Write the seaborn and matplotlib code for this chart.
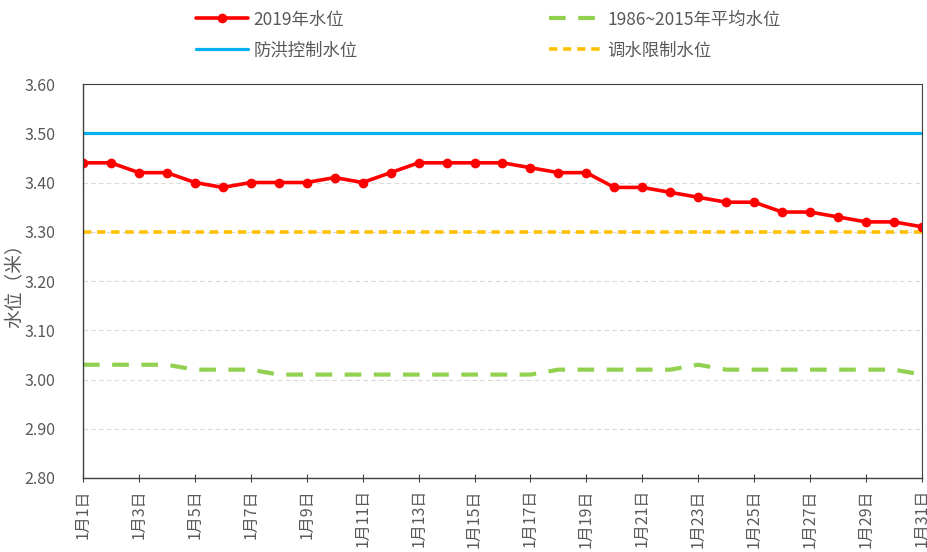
import matplotlib
matplotlib.use("Agg")
import matplotlib.pyplot as plt
import seaborn as sns
import pandas as pd

# ---- data ----
days = list(range(1, 32))
tick_days = list(range(1, 32, 2))
tick_labels = [f"1月{d}日" for d in tick_days]

level_2019 = [3.44, 3.44, 3.42, 3.42, 3.40, 3.39, 3.40, 3.40, 3.40, 3.41,
              3.40, 3.42, 3.44, 3.44, 3.44, 3.44, 3.43, 3.42, 3.42, 3.39,
              3.39, 3.38, 3.37, 3.36, 3.36, 3.34, 3.34, 3.33, 3.32, 3.32, 3.31]
level_avg = [3.03, 3.03, 3.03, 3.03, 3.02, 3.02, 3.02, 3.01, 3.01, 3.01,
             3.01, 3.01, 3.01, 3.01, 3.01, 3.01, 3.01, 3.02, 3.02, 3.02,
             3.02, 3.02, 3.03, 3.02, 3.02, 3.02, 3.02, 3.02, 3.02, 3.02, 3.01]
flood_level = 3.50
diversion_level = 3.30

y_ticks = [2.80, 2.90, 3.00, 3.10, 3.20, 3.30, 3.40, 3.50, 3.60]

names = ["2019年水位", "1986~2015年平均水位", "防洪控制水位", "调水限制水位"]

df = pd.DataFrame({
    "day": days,
    names[0]: level_2019,
    names[1]: level_avg,
    names[2]: [flood_level] * len(days),
    names[3]: [diversion_level] * len(days),
})

# ---- style ----
sns.set_theme(style="white")
plt.rcParams["font.family"] = ["Noto Sans CJK SC", "DejaVu Sans"]
plt.rcParams["axes.unicode_minus"] = False

grey = "#595959"
fig = plt.figure(figsize=(9.28, 5.52), dpi=100)
ax = fig.add_axes([83 / 928, 1 - 478 / 552, (922 - 83) / 928, (478 - 84) / 552])

sns.lineplot(data=df, x="day", y=names[2], ax=ax, color="#00B0F0",
             linewidth=2.3, label=names[2])
sns.lineplot(data=df, x="day", y=names[3], ax=ax, color="#FFC000",
             linewidth=2.6, dashes=False, label=names[3])
ax.lines[-1].set_dashes([2.3, 1.6])
sns.lineplot(data=df, x="day", y=names[1], ax=ax, color="#92D050",
             linewidth=3.0, label=names[1])
ax.lines[-1].set_dashes([4, 3])
sns.lineplot(data=df, x="day", y=names[0], ax=ax, color="#FF0000",
             linewidth=2.6, marker="o", markersize=7, markeredgewidth=0,
             label=names[0])

ax.set_xlim(1, 31)
ax.set_ylim(2.80, 3.60)
ax.set_yticks(y_ticks)
ax.set_yticklabels([f"{v:.2f}" for v in y_ticks], fontsize=11.5, color=grey)
ax.set_xticks(tick_days)
ax.set_xticklabels(tick_labels, rotation=90, fontsize=11.5, color=grey,
                   va="top")
ax.tick_params(axis="x", direction="inout", length=6, width=0.8,
               color="#404040", pad=5, bottom=True)
ax.tick_params(axis="y", length=0, pad=20)

ax.set_xlabel("")
ax.set_ylabel("水位（米）", fontsize=13.5, color=grey)
ax.yaxis.set_label_coords(-0.068, 0.5)

ax.yaxis.grid(True, color="#D9D9D9", linestyle=(0, (4, 3)), linewidth=0.8)
ax.xaxis.grid(False)
for side in ["left", "bottom"]:
    ax.spines[side].set_color("#404040")
    ax.spines[side].set_linewidth(1.0)
for side in ["top", "right"]:
    ax.spines[side].set_color("#404040")
    ax.spines[side].set_linewidth(0.8)

handles, labels = ax.get_legend_handles_labels()
order = [labels.index(names[0]), labels.index(names[2]),
         labels.index(names[1]), labels.index(names[3])]
leg = ax.legend([handles[i] for i in order], [labels[i] for i in order],
                ncol=2, loc="center", frameon=False, fontsize=12.5,
                handlelength=3.0, handletextpad=0.35, columnspacing=11,
                labelspacing=0.75, borderpad=0)
for t in leg.get_texts():
    t.set_color(grey)
leg.set_bbox_to_anchor((488 / 928, 1 - 35 / 552), transform=fig.transFigure)

fig.savefig("out.png", dpi=100)
